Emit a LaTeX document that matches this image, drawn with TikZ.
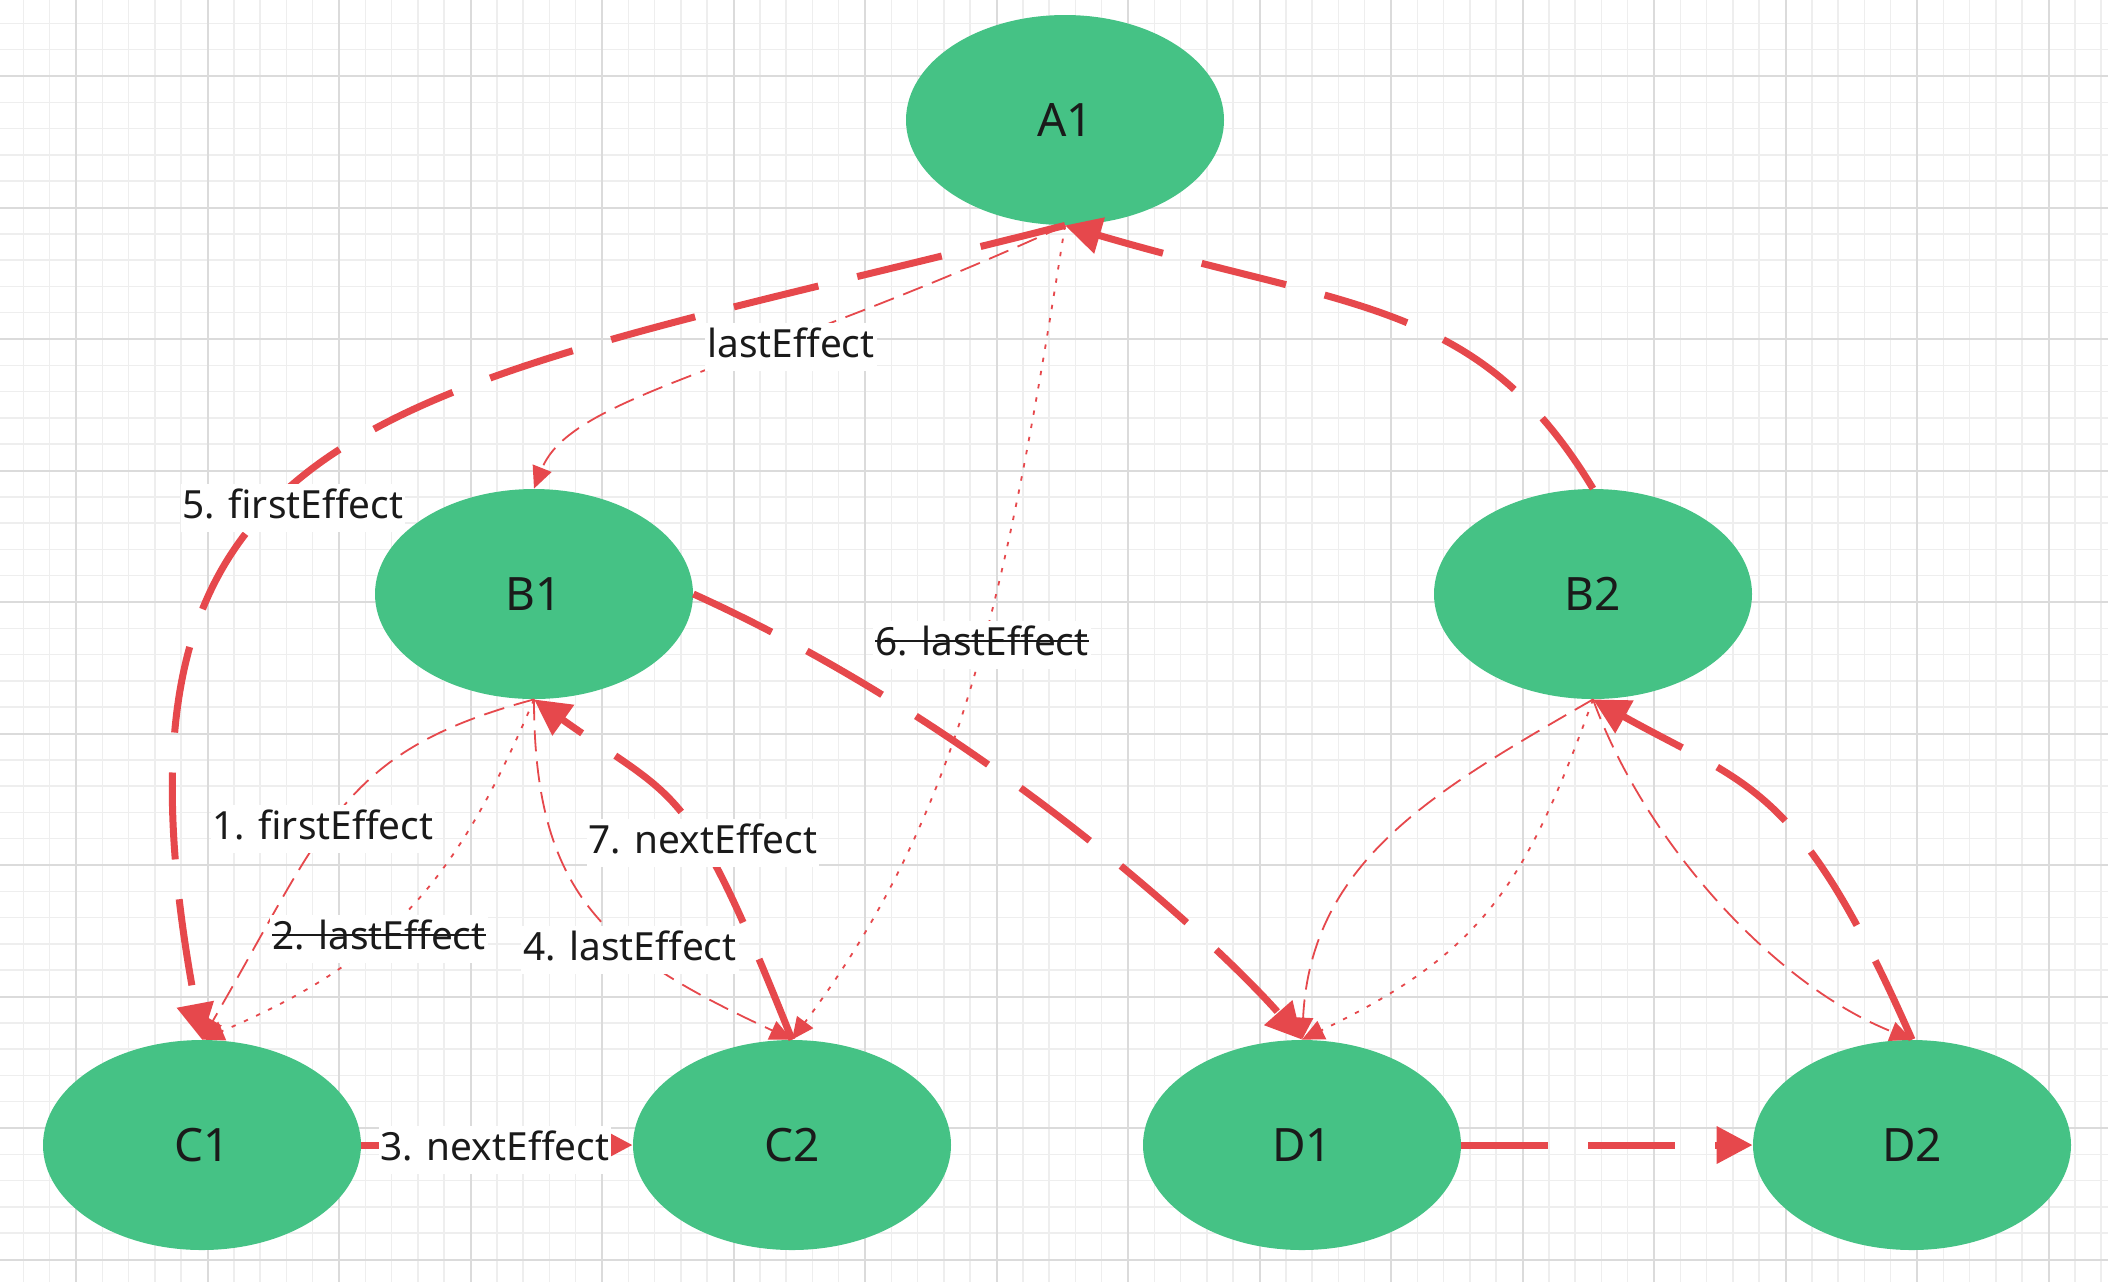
\documentclass[tikz,border=0pt]{standalone}
\usepackage{fontspec}
\setmainfont{Noto Sans}
\usetikzlibrary{shapes.geometric,arrows.meta}
\definecolor{nodegreen}{HTML}{45C285}
\definecolor{edgered}{HTML}{E6484C}
\definecolor{txt}{HTML}{1A1A1A}
\definecolor{gridmajor}{HTML}{DBDBDB}
\definecolor{gridminor}{HTML}{EEEEEE}
\newlength\strkw
\newcommand\strk[1]{\settowidth\strkw{#1}\rlap{\rule[0.34em]{\strkw}{1.1pt}}#1}
\begin{document}
\begin{tikzpicture}[x=0.5pt,y=-0.5pt,
  every node/.style={font=\fontsize{19.4pt}{23pt}\selectfont, text=txt},
  state/.style={ellipse, fill=nodegreen, minimum width=159pt, minimum height=105pt, inner sep=0pt, font=\fontsize{23pt}{27pt}\selectfont},
  boldlink/.style={draw=edgered, line width=3.5pt, dash pattern=on 43.5pt off 20pt, -{Triangle[length=18pt,width=18pt]}},
  thindash/.style={draw=edgered, line width=0.9pt, dash pattern=on 10.5pt off 5pt, -{Triangle[length=11pt,width=10pt]}},
  thindot/.style={draw=edgered, line width=0.9pt, dash pattern=on 2.2pt off 4.5pt, -{Triangle[length=11pt,width=10pt]}},
  lbl/.style={fill=white, inner xsep=1pt, inner ysep=2.5pt, text height=14.5pt, text depth=4.5pt, anchor=base},
  minorline/.style={draw=gridminor, line width=0.75pt},
  majorline/.style={draw=gridmajor, line width=1pt},
]
\useasboundingbox (0,0) rectangle (2108,1282);
\fill[white] (0,0) rectangle (2108,1282);
% grid
\foreach \i in {-2,...,77} \draw[minorline] ({76+26.3*\i},0) -- ({76+26.3*\i},1282);
\foreach \i in {-2,...,46} \draw[minorline] (0,{76+26.3*\i}) -- (2108,{76+26.3*\i});
\foreach \i in {0,...,15} \draw[majorline] ({76+131.5*\i},0) -- ({76+131.5*\i},1282);
\foreach \i in {0,...,9} \draw[majorline] (0,{76+131.5*\i}) -- (2108,{76+131.5*\i});

% nodes
\node[state] (A1) at (1065,120) {A1};
\node[state] (B1) at (534,594) {B1};
\node[state] (B2) at (1593,594) {B2};
\node[state] (C1) at (202,1145) {C1};
\node[state] (C2) at (792,1145) {C2};
\node[state] (D1) at (1302,1145) {D1};
\node[state] (D2) at (1912,1145) {D2};

% thick connectors
\draw[boldlink] (A1.south) .. controls (385,398) and (82,402) .. (C1.north);
\draw[boldlink] (B2.north) .. controls (1479,300) and (1353,310) .. (A1.south);
\draw[boldlink] (B1.east) .. controls (983,725) and (1216,942) .. (D1.north);
\draw[boldlink] (C2.north) .. controls (688,779) and (680,803) .. (B1.south);
\draw[boldlink] (D2.north) .. controls (1799,783) and (1750,787) .. (B2.south);
\draw[boldlink] (D1.east) -- (D2.west);
\draw[boldlink] (C1.east) -- (C2.west);

% thin connectors
\draw[thindash] (A1.south) .. controls (747,370) and (571,396) .. (B1.north);
\draw[thindash] (B1.south) .. controls (342,751) and (328,822) .. (C1.north);
\draw[thindot] (B1.south) .. controls (456,883) and (387,961) .. (C1.north);
\draw[thindash] (B1.south) .. controls (534,899) and (610,955) .. (C2.north);
\draw[thindot] (A1.south) .. controls (1006,601) and (960,815) .. (C2.north);
\draw[thindash] (B2.south) .. controls (1438,789) and (1311,859) .. (D1.north);
\draw[thindot] (B2.south) .. controls (1525,887) and (1482,953) .. (D1.north);
\draw[thindash] (B2.south) .. controls (1644,840) and (1772,984) .. (D2.north);

% labels
\node[lbl] (l0) at (791,357) {lastEffect};
\node[lbl] (l1) at (323,839) {1. firstEffect};
\node[lbl] (l2) at (379,949) {\strk{2. lastEffect}};
\node[lbl] (l3) at (495,1160) {3. nextEffect};
\node[lbl] (l4) at (630,960) {4. lastEffect};
\node[lbl] (l5) at (293,518) {5. firstEffect};
\node[lbl] (l6) at (982,655) {\strk{6. lastEffect}};
\node[lbl] (l7) at (703,853) {7. nextEffect};
\end{tikzpicture}
\end{document}
